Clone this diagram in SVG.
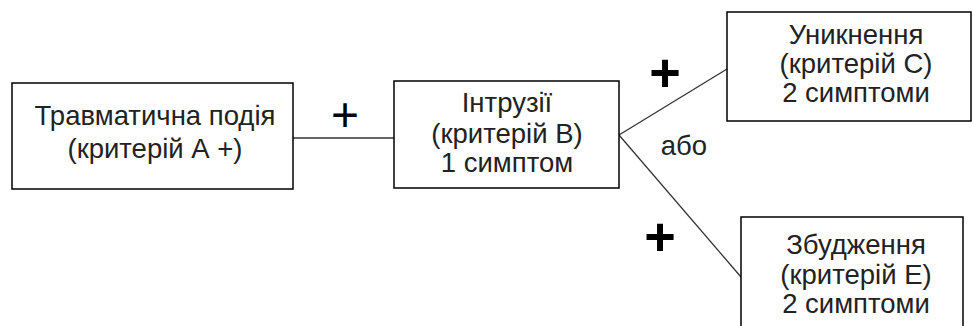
<svg xmlns="http://www.w3.org/2000/svg" width="973" height="326" viewBox="0 0 973 326">
<style>
.box{fill:#fff;stroke:#000;stroke-width:1.5}
.t{font-family:"Liberation Sans",Arial,sans-serif;font-size:27.5px;fill:#222;text-anchor:middle}
.conn{stroke:#333;stroke-width:1.3;fill:none}
.plus{font-family:"Liberation Sans",Arial,sans-serif;fill:#000;text-anchor:middle}
</style>
<rect width="973" height="326" fill="#fff"/>
<g id="connectors">
<line class="conn" x1="293" y1="138" x2="394" y2="138"/>
<line class="conn" x1="619" y1="135" x2="727" y2="69"/>
<line class="conn" x1="619" y1="135" x2="741" y2="277"/>
</g>
<g id="labels">
<text class="plus" x="345" y="131" font-size="48">+</text>
<text class="plus" x="665" y="91" font-size="54" font-weight="bold">+</text>
<text class="plus" x="660" y="255" font-size="54" font-weight="bold">+</text>
<text class="t" x="684" y="155">або</text>
</g>
<g id="node-a">
<rect class="box" x="12" y="83" width="281" height="106"/>
<text class="t" x="155" y="125">Травматична подія</text>
<text class="t" x="155" y="158">(критерій А +)</text>
</g>
<g id="node-b">
<rect class="box" x="394" y="81" width="225" height="107"/>
<text class="t" x="507" y="112">Інтрузії</text>
<text class="t" x="507" y="143">(критерій В)</text>
<text class="t" x="507" y="172">1 симптом</text>
</g>
<g id="node-c">
<rect class="box" x="727" y="12" width="244" height="109"/>
<text class="t" x="856" y="44">Уникнення</text>
<text class="t" x="856" y="73">(критерій С)</text>
<text class="t" x="856" y="102">2 симптоми</text>
</g>
<g id="node-e">
<rect class="box" x="741" y="217" width="222" height="120"/>
<text class="t" x="856" y="254">Збудження</text>
<text class="t" x="856" y="284">(критерій Е)</text>
<text class="t" x="856" y="313">2 симптоми</text>
</g>
</svg>
